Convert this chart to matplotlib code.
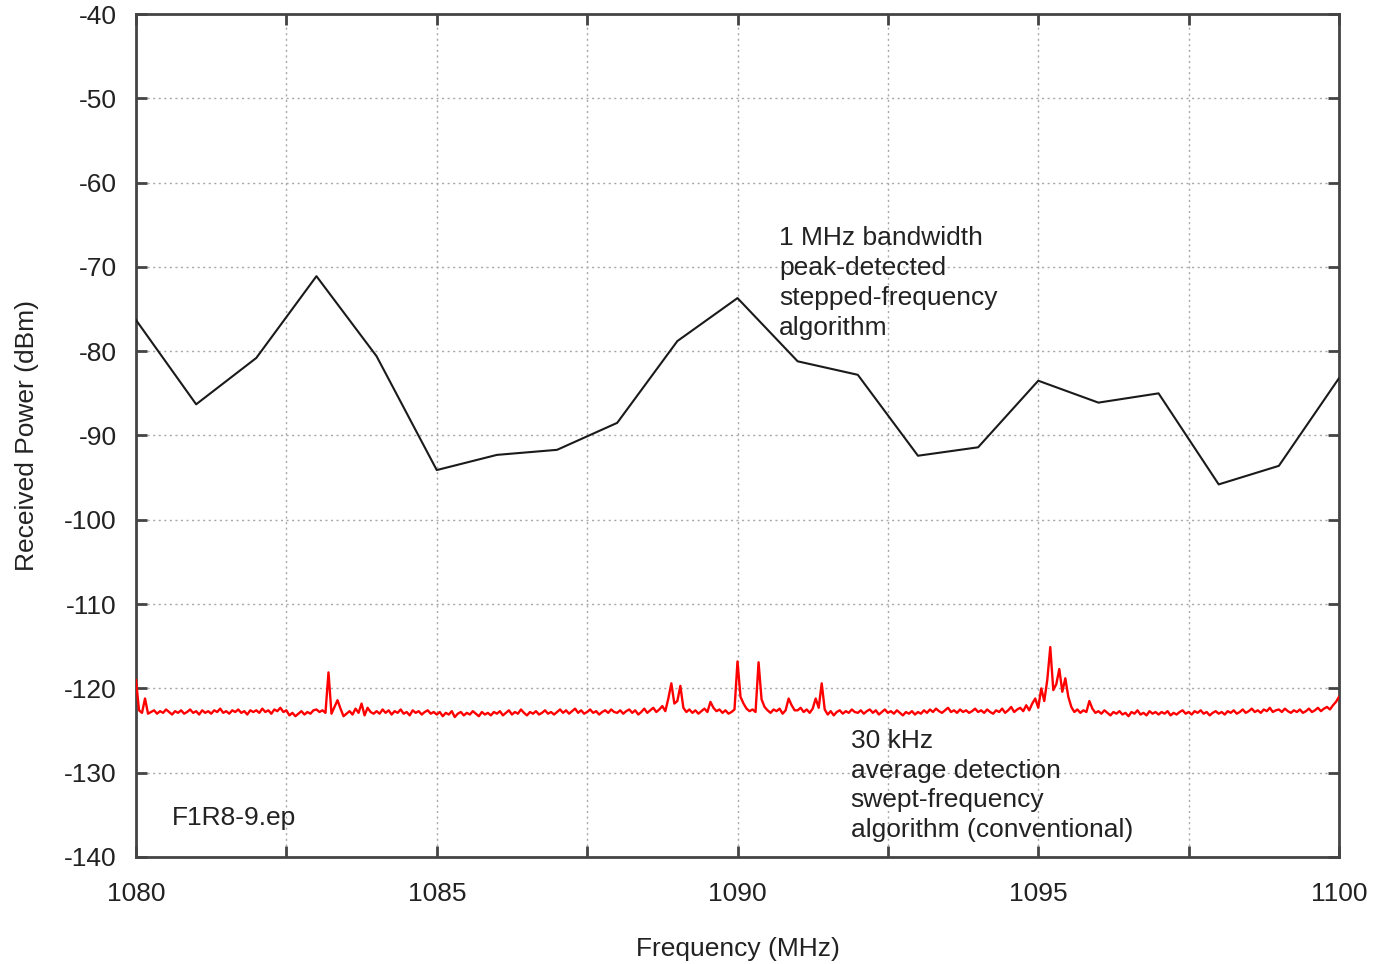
import numpy as np
import matplotlib
matplotlib.use("Agg")
import matplotlib.pyplot as plt
from matplotlib.ticker import FuncFormatter

# ---- data ----
# 1 MHz stepped-frequency peak-detected trace
step_freq = [1080, 1081, 1082, 1083, 1084, 1085, 1086, 1087, 1088, 1089, 1090,
             1091, 1092, 1093, 1094, 1095, 1096, 1097, 1098, 1099, 1100]
step_power = [-76.3, -86.3, -80.8, -71.1, -80.6, -94.1, -92.3, -91.7, -88.5, -78.8, -73.7,
              -81.2, -82.8, -92.4, -91.4, -83.5, -86.1, -85.0, -95.8, -93.6, -83.2]

# 30 kHz swept-frequency average-detection trace (0.05 MHz sampling, 1080..1100)
swept_start = 1080.0
swept_step = 0.05
swept_power = [
    # 1080
    -119.0, -122.6, -122.9, -121.2, -123.0, -122.8, -122.6, -123.0, -122.7, -122.9,
    -122.5, -122.8, -123.1, -122.7, -122.9, -122.6, -123.0, -122.8, -122.5, -122.9,
    # 1081
    -122.7, -123.1, -122.6, -122.9, -122.7, -123.0, -122.6, -122.8, -122.4, -122.9,
    -122.7, -123.0, -122.6, -122.8, -122.5, -122.9, -122.7, -123.1, -122.6, -122.8,
    # 1082
    -122.6, -122.9, -122.4, -122.8, -122.6, -123.0, -122.5, -122.7, -122.3, -122.8,
    -122.6, -123.2, -122.9, -123.3, -123.0, -122.7, -123.1, -122.8, -123.0, -122.6,
    # 1083
    -122.5, -122.8, -122.6, -122.9, -118.1, -123.0, -122.2, -121.4, -122.4, -123.3,
    -123.0, -122.7, -123.1, -122.4, -122.9, -121.8, -123.2, -122.3, -122.8, -123.0,
    # 1084
    -122.7, -123.0, -122.5, -122.9, -122.6, -123.1, -122.7, -122.9, -122.5, -123.0,
    -122.8, -123.2, -122.6, -122.9, -122.7, -123.1, -122.8, -122.6, -123.0, -122.8,
    # 1085
    -123.1, -122.8, -123.3, -122.9, -123.1, -122.7, -123.4, -123.0, -122.8, -123.2,
    -122.9, -123.1, -122.7, -123.0, -123.3, -122.8, -123.1, -122.9, -123.2, -122.8,
    # 1086
    -123.0, -122.7, -123.2, -122.9, -122.6, -123.1, -122.8, -123.0, -122.5, -122.9,
    -123.2, -122.8, -123.0, -122.7, -123.1, -122.9, -122.6, -123.0, -122.8, -123.1,
    # 1087
    -122.8, -122.5, -122.9, -122.6, -123.0, -122.7, -122.4, -122.9, -122.6, -123.0,
    -122.8, -122.5, -122.9, -122.7, -123.1, -122.8, -122.6, -122.9, -122.5, -122.8,
    # 1088
    -122.9, -122.6, -123.0, -122.7, -122.5, -122.9, -122.6, -123.1, -122.8, -122.4,
    -122.9, -122.6, -122.3, -122.8, -122.5, -122.1, -122.7, -121.2, -119.4, -121.8,
    # 1089
    -121.5, -119.7, -122.3, -122.8, -122.5, -122.9, -122.6, -123.0, -122.7, -122.4,
    -122.8, -121.6, -122.3, -122.7, -122.5, -122.9, -122.6, -123.0, -122.8, -122.5,
    # 1090
    -116.8, -121.0, -121.8, -122.4, -122.7, -122.5, -122.8, -116.9, -121.3, -122.2,
    -122.6, -122.9, -122.5, -122.7, -122.4, -123.0, -122.6, -121.2, -122.0, -122.6,
    # 1091
    -122.6, -122.3, -122.8, -122.5, -122.9, -122.4, -121.2, -122.3, -119.4, -122.5,
    -123.1, -122.7, -123.2, -122.8, -122.6, -123.0, -122.7, -122.9, -122.5, -122.8,
    # 1092
    -122.9, -122.6, -123.0, -122.7, -122.5, -122.9, -122.6, -123.1, -122.8, -122.5,
    -122.9, -122.7, -123.0, -122.6, -122.9, -123.2, -122.8, -123.0, -122.7, -123.1,
    # 1093
    -122.8, -123.0, -122.6, -122.9, -122.5, -122.8, -122.4, -122.7, -122.9, -122.6,
    -122.3, -122.8, -122.6, -122.9, -122.5, -122.8, -122.6, -122.9, -122.7, -122.4,
    # 1094
    -122.8, -122.6, -122.9, -122.5, -122.8, -123.0, -122.6, -122.8, -122.4, -122.9,
    -122.6, -122.2, -122.8, -122.5, -122.3, -122.7, -122.0, -122.6, -121.8, -121.2,
    # 1095
    -122.3, -120.0, -121.5, -119.0, -115.1, -120.2, -119.5, -117.7, -120.4, -118.8,
    -121.0, -122.2, -122.8, -122.5, -122.9, -122.6, -122.8, -121.5, -122.4, -122.9,
    # 1096
    -122.7, -123.0, -122.6, -122.9, -123.2, -122.8, -123.0, -122.7, -123.1, -122.9,
    -123.3, -122.8, -123.0, -122.6, -123.1, -122.9, -123.2, -122.7, -123.0, -122.8,
    # 1097
    -123.1, -122.8, -123.0, -122.7, -123.2, -122.9, -123.1, -122.8, -122.6, -123.0,
    -122.8, -123.1, -122.7, -122.9, -122.6, -123.0, -122.8, -123.2, -122.9, -122.7,
    # 1098
    -123.0, -122.8, -123.1, -122.7, -122.9, -122.6, -123.0, -122.8, -122.5, -122.9,
    -122.7, -122.4, -122.8, -122.6, -122.9, -122.5, -122.7, -122.3, -122.8, -122.6,
    # 1099
    -122.5, -122.8, -122.4, -122.7, -122.9, -122.6, -122.8, -122.5, -122.9, -122.7,
    -122.4, -122.8, -122.6, -122.3, -122.7, -122.4, -122.2, -122.5, -122.0, -121.6,
    # 1100
    -121.0,
]

x_ticks = [1080, 1082.5, 1085, 1087.5, 1090, 1092.5, 1095, 1097.5, 1100]
y_ticks = [-140, -130, -120, -110, -100, -90, -80, -70, -60, -50, -40]

label_step = "1 MHz bandwidth\npeak-detected\nstepped-frequency\nalgorithm"
label_swept = "30 kHz\naverage detection\nswept-frequency\nalgorithm (conventional)"
file_label = "F1R8-9.ep"

# ---- figure ----
plt.rcParams['font.family'] = ['Liberation Sans', 'DejaVu Sans']
fig = plt.figure(figsize=(13.76, 9.64), dpi=100)
ax = fig.add_axes([136/1376, 1 - 857/964, (1339-136)/1376, (857-14)/964])

swept_freq = swept_start + swept_step * np.arange(len(swept_power))
ax.plot(swept_freq, swept_power, color='#ff0000', lw=1.7, zorder=3)
ax.plot(step_freq, step_power, color='#1a1a1a', lw=1.5, zorder=4)

ax.set_xlim(1080, 1100)
ax.set_ylim(-140, -40)
ax.set_xticks(x_ticks)
ax.set_yticks(y_ticks)
ax.xaxis.set_major_formatter(FuncFormatter(lambda v, p: f"{v:.0f}" if abs(v % 5) < 1e-6 else ""))
ax.yaxis.set_major_formatter(FuncFormatter(lambda v, p: f"{v:.0f}"))

ax.grid(True, color='#a8a8a8', linestyle=(0, (1.5, 2.5)), linewidth=1.0, zorder=1)
ax.tick_params(direction='in', length=8, width=2, color='#444444', top=True, right=True,
               labelsize=19, labelcolor='#222222')
ax.tick_params(axis='x', pad=18)
ax.tick_params(axis='y', pad=14)
for s in ax.spines.values():
    s.set_color('#444444')
    s.set_linewidth(2)

ax.set_xlabel("Frequency (MHz)", fontsize=19, color='#222222', labelpad=22)
ax.set_ylabel("Received Power (dBm)", fontsize=19, color='#222222', labelpad=18)

ax.text(1090.69, -65.2, label_step, fontsize=19, color='#222222', va='top', ha='left',
        linespacing=1.3)
ax.text(1091.88, -124.8, label_swept, fontsize=19, color='#222222', va='top', ha='left',
        linespacing=1.3)
ax.text(1080.6, -135.4, file_label, fontsize=19, color='#222222', va='center', ha='left')

fig.savefig("out.png", dpi=100, facecolor='white')
